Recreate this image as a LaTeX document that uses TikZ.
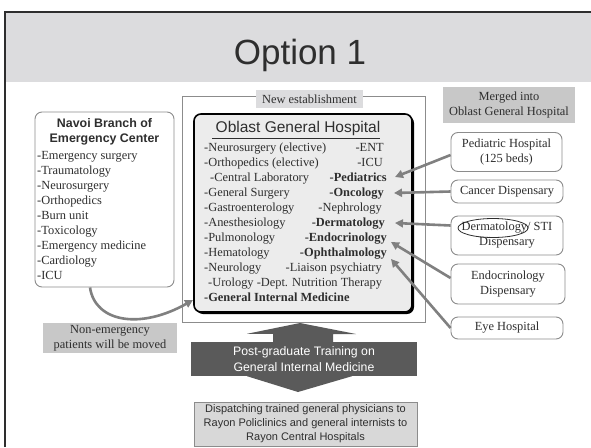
\documentclass[tikz,border=0pt]{standalone}
\usepackage{fontspec}
\setmainfont{Liberation Serif}
\setsansfont{Liberation Sans}
\usetikzlibrary{arrows.meta,calc}

\definecolor{band}{HTML}{DCDCDE}
\definecolor{labfill}{HTML}{C8C8C8}
\definecolor{hospfill}{HTML}{ECECEC}
\definecolor{ink}{HTML}{2E2E2E}
\definecolor{arrowgray}{HTML}{808080}
\definecolor{boxline}{HTML}{8C8C8C}
\definecolor{darkfill}{HTML}{5A5A5A}
\definecolor{dispfill}{HTML}{D8D8D8}

\begin{document}
\begin{tikzpicture}[x=1pt,y=-1pt,
  serif/.style={font=\fontsize{12.4}{15}\selectfont, text=ink, inner sep=0pt},
  item/.style={serif, anchor=base west},
  ritem/.style={serif, anchor=base east},
  bitem/.style={serif, anchor=base east, font=\fontsize{12.4}{15}\selectfont\bfseries},
  rbox/.style={draw=boxline, line width=0.9pt, rounded corners=7pt, fill=white, inner sep=0pt},
  label/.style={fill=labfill, inner sep=0pt, align=center, serif},
  merge/.style={draw=arrowgray, line width=2.6pt, -{Triangle[length=8pt,width=8pt]}},
]
\useasboundingbox (0,0) rectangle (591,447);
\fill[white] (0,0) rectangle (591,447);

% title band and frame
\fill[band] (5,12) rectangle (591,82);
\draw[line width=2pt, ink] (5,447) -- (5,12) -- (591,12);
\node[font=\sffamily\fontsize{35}{40}\selectfont, text=ink, inner sep=0pt] (title) at (300,55) {Option 1};

% new establishment frame
\draw[boxline, line width=0.7pt] (182,96) rectangle (425,322);
\node[label, fill=band, minimum width=107pt, minimum height=18pt] (newest) at (309.5,99) {New establishment};

% Oblast General Hospital
\fill[black] (196,116) [rounded corners=7pt] rectangle (414,314);
\node[draw=black, line width=1.6pt, rounded corners=7pt, fill=hospfill,
      minimum width=218pt, minimum height=198pt, inner sep=0pt] (oblast) at (303,213) {};
\node[font=\sffamily\fontsize{15.5}{18}\selectfont, text=ink, inner sep=0pt] (obtitle) at (298,128) {Oblast General Hospital};
\draw[ink, line width=1pt] (212,138) -- (380,138);

% departments, one baseline every 15pt
\node[item] (l1) at (204,151) {-Neurosurgery (elective)};
\node[item] (l2) at (204,166) {-Orthopedics (elective)};
\node[item] (l3) at (210,181) {-Central Laboratory};
\node[item] (l4) at (204,196) {-General Surgery};
\node[item] (l5) at (204,211) {-Gastroenterology};
\node[item] (l6) at (204,226) {-Anesthesiology};
\node[item] (l7) at (204,241) {-Pulmonology};
\node[item] (l8) at (204,256) {-Hematology};
\node[item] (l9) at (204,271) {-Neurology};
\node[item] (l10) at (208,286) {-Urology -Dept. Nutrition Therapy};
\node[item, font=\fontsize{12.4}{15}\selectfont\bfseries] (l11) at (204,301) {-General Internal Medicine};

\node[ritem] (ent) at (384,151) {-ENT};
\node[ritem] (icu) at (383,166) {-ICU};
\node[bitem] (ped) at (387,181) {-Pediatrics};
\node[bitem] (onc) at (384,196) {-Oncology};
\node[ritem] (nep) at (382,211) {-Nephrology};
\node[bitem] (der) at (385,226) {-Dermatology};
\node[bitem] (endo) at (387,241) {-Endocrinology};
\node[bitem] (oph) at (387,256) {-Ophthalmology};
\node[ritem] (lia) at (382,271) {-Liaison psychiatry};

% Navoi branch
\node[rbox, minimum width=139pt, minimum height=175pt] (navoi) at (104.5,199.5) {};
\node[font=\sffamily\bfseries\fontsize{12.4}{15}\selectfont, text=ink, align=center, inner sep=0pt] (navtitle) at (104.5,131.5) {Navoi Branch of\\Emergency Center};
\node[item] (n1) at (37,159) {-Emergency surgery};
\node[item] (n2) at (37,174) {-Traumatology};
\node[item] (n3) at (37,189) {-Neurosurgery};
\node[item] (n4) at (37,204) {-Orthopedics};
\node[item] (n5) at (37,219) {-Burn unit};
\node[item] (n6) at (37,234) {-Toxicology};
\node[item] (n7) at (37,249) {-Emergency medicine};
\node[item] (n8) at (37,264) {-Cardiology};
\node[item] (n9) at (37,279) {-ICU};

% patients moved to the oblast hospital
\coordinate (movetip) at (193,300);
\draw[merge] ([xshift=-14.5pt]navoi.south) .. controls (95,322) and (140,330) .. (movetip);
\node[label, minimum width=134pt, minimum height=30pt] (moved) at (110,338) {Non-emergency\\patients will be moved};

% merged institutions
\node[label, minimum width=132pt, minimum height=36pt] (merged) at (509,105) {Merged into\\Oblast General Hospital};
\node[rbox, serif, align=center, minimum width=111pt, minimum height=39pt] (pedh) at (506.5,152) {Pediatric Hospital\\(125 beds)};
\node[rbox, serif, align=center, minimum width=112pt, minimum height=23pt] (canc) at (507,191.5) {Cancer Dispensary};
\node[rbox, serif, align=center, minimum width=112pt, minimum height=39pt] (dermd) at (507,235.5) {Dermatology/ STI\\Dispensary};
\draw[ink, line width=0.8pt] (493,228) ellipse [x radius=35, y radius=9.5];
\node[rbox, serif, align=center, minimum width=114pt, minimum height=40pt] (endod) at (508,284) {Endocrinology\\Dispensary};
\node[rbox, serif, align=center, minimum width=112pt, minimum height=22pt] (eye) at (507,328) {Eye Hospital};

\draw[merge] ([yshift=-3pt]pedh.west) -- ([xshift=8pt,yshift=4pt]ped.base east);
\draw[merge] (canc.west) -- ([xshift=10pt,yshift=3pt]onc.base east);
\draw[merge] ([yshift=10pt]dermd.west) -- ([xshift=10pt,yshift=3pt]der.base east);
\draw[merge] ([yshift=6pt]endod.west) -- ([xshift=4pt,yshift=-1pt]endo.base east);
\draw[merge] (eye.west) -- ([xshift=4pt,yshift=-3pt]oph.base east);

% post-graduate training, with arrows up and down
\node[fill=darkfill, minimum width=226pt, minimum height=34pt, inner sep=0pt,
      text=white, align=center, font=\sffamily\fontsize{12.3}{16}\selectfont] (pgt) at (304,359)
      {Post-graduate Training on\\General Internal Medicine};
\fill[darkfill] ($(pgt.north)+(-31,0)$) -- ++(0,-8) -- ++(-26,0) -- (300,323) -- (356,334) -- (333,334) -- ($(pgt.north)+(29,0)$) -- cycle;
\fill[darkfill] ($(pgt.south)+(-57,0)$) -- (298,392) -- ($(pgt.south)+(48,0)$) -- cycle;

% dispatching
\node[draw=boxline, line width=0.8pt, fill=dispfill, minimum width=223pt, minimum height=44pt, inner sep=0pt,
      text=ink, align=center, font=\sffamily\fontsize{11}{14}\selectfont] (disp) at (305.5,424)
      {Dispatching trained general physicians to\\Rayon Policlinics and general internists to\\Rayon Central Hospitals};
\end{tikzpicture}
\end{document}
